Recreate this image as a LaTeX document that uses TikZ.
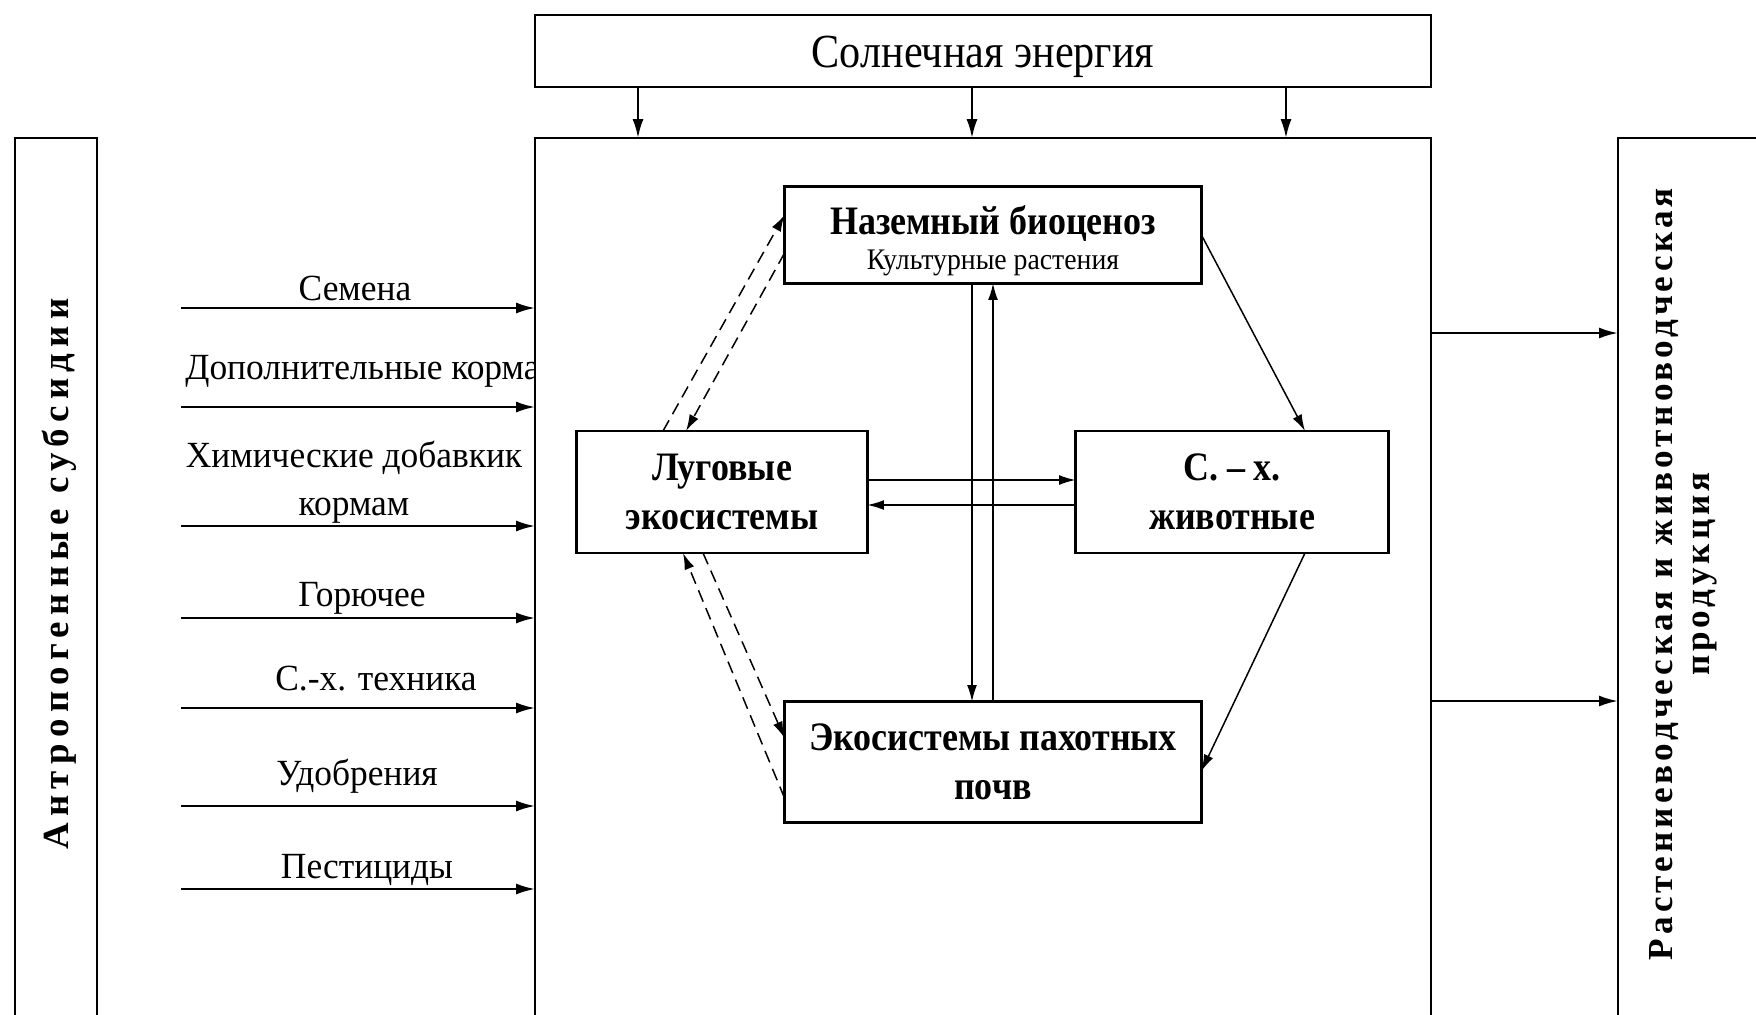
\documentclass[tikz,border=0pt]{standalone}
\usepackage{fontspec}
\setmainfont{Liberation Serif}
\newfontfamily\condA{Liberation Serif}[FakeStretch=0.89]
\newfontfamily\condB{Liberation Serif}[FakeStretch=0.96]
\newfontfamily\condC{Liberation Serif}[FakeStretch=0.93]
\usetikzlibrary{arrows.meta}
\begin{document}
\begin{tikzpicture}[x=0.02cm,y=-0.02cm,
  box/.style={draw,line width=1.3pt,inner sep=0pt,outer sep=0pt},
  thinbox/.style={draw,line width=1.2pt,inner sep=0pt,outer sep=0pt,fill=white},
  arr/.style={-{Latex[length=0.38cm,width=0.22cm]},line width=1.3pt},
  iarr/.style={-{Latex[length=0.33cm,width=0.2cm]},line width=0.85pt},
  darr/.style={iarr,dash pattern=on 7pt off 4pt},
  lbl/.style={font=\condB\fontsize{21}{25}\selectfont,inner sep=0pt},
  bld/.style={font=\condA\bfseries\fontsize{23}{27}\selectfont,align=center,inner sep=0pt},
]
\clip (0,0) rectangle (1756,1015);
\fill[white] (0,0) rectangle (1756,1015);

% left input labels
\node[lbl] (l1) at (355,288) {Семена};
\node[lbl,anchor=west] (l2) at (185,371) {Дополнительные корма};
\node[lbl] (l3) at (354,458) {Химические добавкик};
\node[lbl] (l3b) at (354,511) {кормам};
\node[lbl] (l4) at (362,598) {Горючее};
\node[lbl] (l5) at (376,679) {С.-х. техника};
\node[lbl] (l6) at (357,776) {Удобрения};
\node[lbl] (l7) at (367,870) {Пестициды};

% main central box (open at bottom)
\node[box,fill=white,minimum width=17.92cm,minimum height=18.04cm] (main) at (983,589) {};
% sun box
\node[box,minimum width=17.92cm,minimum height=1.44cm] (sun) at (983,51) {};
\node[font=\condA\fontsize{27}{30}\selectfont,inner sep=0pt] (suntext) at ([yshift=-3.4pt]sun.center) {Солнечная энергия};
% left box
\node[box,minimum width=1.64cm,minimum height=18.04cm] (left) at (56,589) {};
\node[rotate=90,font=\bfseries\fontsize{21}{23}\selectfont\addfontfeature{LetterSpace=17}] (lefttext) at (59,574) {Антропогенные субсидии};
% right box
\node[box,minimum width=3.44cm,minimum height=18.04cm] (right) at (1704,589) {};
\node[rotate=90,align=center,font=\bfseries\fontsize{20}{21}\selectfont\addfontfeature{LetterSpace=11.5}] (righttext) at (1683,574) {Растениеводческая и животноводческая\\продукция};

% sun arrows
\foreach \xx/\nm in {638/s1,972/s2,1286/s3}{
  \coordinate (\nm) at (\xx,0);
  \draw[arr] (\nm |- sun.south) -- (\nm |- main.north);
}

% input arrows
\foreach \yy/\nm in {308/i1,407/i2,526/i3,618/i4,708/i5,806/i6,889/i7}{
  \coordinate (\nm) at (181,\yy);
  \draw[arr] (\nm) -- (\nm -| main.west);
}

% output arrows
\foreach \yy/\nm in {333/o1,701/o2}{
  \coordinate (\nm) at (0,\yy);
  \draw[arr] (\nm -| main.east) -- (\nm -| right.west);
}

% inner boxes
\node[thinbox,minimum width=8.34cm,minimum height=1.94cm] (nazem) at (993,235) {};
\node[bld] (nazemt) at (993,224) {Наземный биоценоз};
\node[font=\condC\fontsize{17}{19}\selectfont,inner sep=0pt] (nazemk) at (993,263) {Культурные растения};

\node[thinbox,bld,minimum width=5.82cm,minimum height=2.44cm] (lug) at (722,492) {Луговые\\[1pt]экосистемы};
\node[thinbox,bld,minimum width=6.26cm,minimum height=2.44cm] (zhiv) at (1232,492) {С. – х.\\[1pt]животные};
\node[thinbox,bld,minimum width=8.34cm,minimum height=2.42cm] (pah) at (993,762) {Экосистемы пахотных\\[1pt]почв};

% helper coordinates
\coordinate (h1) at (1305,0);
\coordinate (v1) at (972,0);
\coordinate (v2) at (993,0);
\coordinate (y1) at (0,480);
\coordinate (y2) at (0,505);
\coordinate (y3) at (0,771);
\coordinate (d1) at (663,215);
\coordinate (d2) at (686,253);
\coordinate (d3) at (683,798);
\coordinate (d4) at (703,738);

% solid inner connectors
\draw[iarr] (nazem.east) -- (h1 |- zhiv.north);
\draw[iarr] (h1 |- zhiv.south) -- (y3 -| pah.east);
\draw[iarr] (v1 |- nazem.south) -- (v1 |- pah.north);
\draw[iarr] (v2 |- pah.north) -- (v2 |- nazem.south);
\draw[iarr] (y1 -| lug.east) -- (y1 -| zhiv.west);
\draw[iarr] (y2 -| zhiv.west) -- (y2 -| lug.east);

% dashed connectors
\draw[darr] (d1 |- lug.north) -- (d1 -| nazem.west);
\draw[darr] (d2 -| nazem.west) -- (d2 |- lug.north);
\draw[darr] (d3 -| pah.west) -- (d3 |- lug.south);
\draw[darr] (d4 |- lug.south) -- (d4 -| pah.west);
\end{tikzpicture}
\end{document}
